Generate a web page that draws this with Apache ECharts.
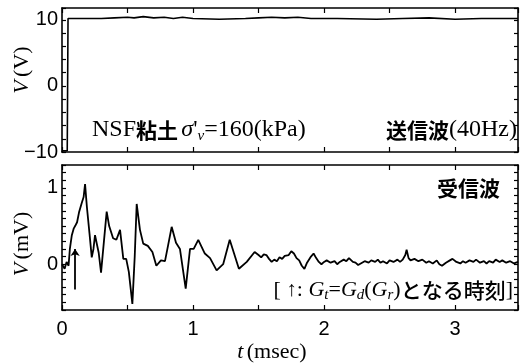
<!DOCTYPE html>
<html>
<head>
<meta charset="utf-8">
<script src="https://cdn.jsdelivr.net/npm/echarts@6/dist/echarts.min.js"></script>
<style>
  html, body { margin: 0; padding: 0; background: #fff; }
  #chart { width: 521px; height: 363px; }
</style>
</head>
<body>
<div id="chart"></div>
<script>
// 送信波 (V)
const sendT = [0, 0.02, 0.04, 0.046, 0.2, 0.3, 0.4, 0.5, 0.55, 0.62, 0.7, 0.78, 0.85, 0.92, 1.0, 1.2, 1.4, 1.5, 1.6,
  1.7, 1.8, 1.9, 2.1, 2.4, 2.6, 2.8, 3.0, 3.2, 3.48];
const sendV = [-9.8, -9.8, -9.8, 10.2, 10.2, 10.2, 10.3, 10.4, 10.3, 10.5, 10.3, 10.4, 10.2, 10.4, 10.2, 10.1, 10.2, 10.3,
  10.4, 10.3, 10.4, 10.2, 10.2, 10.1, 10.2, 10.3, 10.1, 10.2, 10.2];

// 受信波 (mV)
const recvT = [0, 0.02, 0.035, 0.05, 0.06, 0.075, 0.09, 0.1, 0.115, 0.13, 0.15, 0.165, 0.176, 0.19, 0.21,
  0.227, 0.24, 0.252, 0.265, 0.28, 0.298, 0.32, 0.341, 0.36, 0.39, 0.415, 0.443, 0.468, 0.49, 0.51,
  0.537, 0.555, 0.57, 0.595, 0.62, 0.655, 0.69, 0.72, 0.755, 0.786, 0.81, 0.837, 0.87, 0.9, 0.944,
  0.977, 1.005, 1.04, 1.09, 1.13, 1.18, 1.23, 1.28, 1.35, 1.41,
  1.47, 1.5, 1.52, 1.54, 1.56, 1.58, 1.6, 1.62, 1.64, 1.66, 1.68, 1.7, 1.73, 1.75, 1.77, 1.79, 1.81, 1.83,
  1.85, 1.87, 1.9, 1.92, 1.94, 1.96, 1.98, 2.0, 2.02, 2.05, 2.08, 2.1, 2.12, 2.15, 2.17, 2.19, 2.22, 2.24,
  2.26, 2.28, 2.31, 2.34, 2.36, 2.39, 2.41, 2.43, 2.45, 2.48, 2.5, 2.53, 2.56, 2.58, 2.6, 2.62, 2.63, 2.645,
  2.66, 2.69, 2.72, 2.75, 2.78, 2.8, 2.83, 2.86, 2.88, 2.9, 2.93, 2.96, 2.98, 3.01, 3.04, 3.06, 3.08, 3.11,
  3.14, 3.16, 3.19, 3.22, 3.24, 3.26, 3.29, 3.31, 3.34, 3.36, 3.39, 3.42, 3.45, 3.48];
const recvV = [0.0, -0.06, 0.03, -0.02, 0.2, 0.38, 0.47, 0.5, 0.55, 0.68, 0.8, 0.88, 1.05, 0.75, 0.4,
  0.09, 0.2, 0.38, 0.4, 0.15, -0.11, 0.3, 0.69, 0.5, 0.34, 0.32, 0.45, 0.07, 0.07, -0.1,
  -0.52, 0.1, 0.79, 0.45, 0.27, 0.24, 0.16, -0.02, 0.05, 0.04, 0.25, 0.49, 0.28, 0.2, -0.32,
  0.2, 0.2, 0.32, 0.14, 0.08, -0.08, 0.0, 0.32, -0.06, 0.03,
  0.16, 0.12, 0.09, 0.13, 0.12, 0.07, 0.03, 0.06, 0.04, 0.09, 0.07, 0.11, 0.12, 0.17, 0.14, 0.08, 0.05, -0.02,
  -0.06, 0.02, 0.1, 0.14, 0.08, 0.03, 0.0, 0.03, 0.05, 0.02, 0.04, 0.0, 0.03, 0.06, 0.04, 0.08, 0.03, 0.02,
  -0.01, 0.01, 0.04, 0.02, 0.05, 0.03, 0.06, 0.02, 0.04, 0.01, 0.05, 0.03, 0.06, 0.03, 0.06, 0.12, 0.19, 0.08,
  0.05, 0.07, 0.04, 0.06, 0.02, 0.04, 0.01, 0.05, 0.0, -0.02, 0.02, 0.05, 0.07, 0.03, 0.01, 0.04, 0.02, 0.05,
  0.03, 0.06, 0.02, 0.04, 0.01, 0.04, 0.02, 0.06, 0.03, 0.05, 0.02, 0.04, 0.01, 0.03];

// 矢印 (Gt=Gd となる時刻)
const arrowT = 0.1;
const arrowV = [-0.33, 0.2];

const tMax = 3.48;
const serif = '"Liberation Serif", "Times New Roman", serif';
const sans = '"Liberation Sans", Arial, sans-serif';
const cjk = '"Noto Sans CJK JP", sans-serif';

const lineBlack = { show: true, onZero: false, lineStyle: { color: '#000', width: 1.6 } };

function xAx(grid, pos, labels) {
  return {
    type: 'value', gridIndex: grid, position: pos, min: 0, max: tMax, interval: 0.5,
    axisLine: lineBlack,
    axisTick: { show: true, inside: true, length: 5, lineStyle: { color: '#000', width: 1.2 } },
    axisLabel: {
      show: labels, margin: 9, color: '#000', fontFamily: sans, fontSize: 20,
      formatter: v => (Math.abs(v - Math.round(v)) < 1e-6 && v <= 3 ? String(Math.round(v)) : '')
    },
    splitLine: { show: false }
  };
}

function yAx(grid, pos, min, max, interval, fmt) {
  return {
    type: 'value', gridIndex: grid, position: pos, min: min, max: max, interval: interval,
    axisLine: lineBlack,
    axisTick: { show: true, inside: true, length: 4, lineStyle: { color: '#000', width: 1.2 } },
    axisLabel: { show: !!fmt, margin: 4, color: '#000', fontFamily: sans, fontSize: 20, formatter: fmt },
    splitLine: { show: false }
  };
}

const topFmt = v => (v === 10 ? '10' : v === 0 ? '0' : v === -10 ? '\u221210' : '');
const botFmt = v => (Math.abs(v) < 1e-6 ? '0' : Math.abs(v - 1) < 1e-6 ? '1' : '');

const rich = {
  r: { fontFamily: serif, fontSize: 24, lineHeight: 28, color: '#000' },
  i: { fontFamily: serif, fontSize: 24, lineHeight: 28, fontStyle: 'italic', color: '#000' },
  n: { fontFamily: serif, fontSize: 22, lineHeight: 26, color: '#000' },
  ni: { fontFamily: serif, fontSize: 22, lineHeight: 26, fontStyle: 'italic', color: '#000' },
  sub: { fontFamily: serif, fontSize: 15, lineHeight: 15, fontStyle: 'italic', verticalAlign: 'bottom', color: '#000' },
  j: { fontFamily: cjk, fontSize: 21, lineHeight: 28, fontWeight: 'bold', color: '#000' },
  jm: { fontFamily: cjk, fontSize: 21, lineHeight: 26, fontWeight: 500, color: '#000' },
  ar: { fontFamily: sans, fontSize: 21, lineHeight: 26, fontWeight: 'bold', color: '#000' }
};

function label(x, y, text, align, rotation) {
  return {
    type: 'text', x: x, y: y, rotation: rotation || 0,
    style: { text: text, rich: rich, align: align, verticalAlign: 'middle' }
  };
}

const chart = echarts.init(document.getElementById('chart'));

chart.setOption({
  backgroundColor: '#fff',
  animation: false,
  grid: [
    { left: 62, right: 3, top: 8, height: 144 },
    { left: 62, right: 3, top: 165, height: 145 }
  ],
  xAxis: [xAx(0, 'bottom', false), xAx(0, 'top', false), xAx(1, 'bottom', true), xAx(1, 'top', false)],
  yAxis: [
    yAx(0, 'left', -10, 11.8, 2, topFmt), yAx(0, 'right', -10, 11.8, 2, null),
    yAx(1, 'left', -0.6, 1.3, 0.1, botFmt), yAx(1, 'right', -0.6, 1.3, 0.1, null)
  ],
  series: [
    {
      type: 'line', xAxisIndex: 0, yAxisIndex: 0, showSymbol: false,
      data: sendT.map((t, i) => [t, sendV[i]]),
      lineStyle: { color: '#000', width: 1.6 }
    },
    {
      type: 'line', xAxisIndex: 2, yAxisIndex: 2, showSymbol: false,
      data: recvT.map((t, i) => [t, recvV[i]]),
      lineStyle: { color: '#000', width: 1.8 },
      markLine: {
        silent: true, symbol: ['none', 'arrow'], symbolSize: 7,
        label: { show: false },
        lineStyle: { color: '#000', width: 1.8, type: 'solid' },
        data: [[{ coord: [arrowT, arrowV[0]] }, { coord: [arrowT, arrowV[1]] }]]
      }
    }
  ],
  graphic: [
    label(22, 70, '{ni|V} {n|(V)}', 'center', Math.PI / 2),
    label(22, 244, '{ni|V} {n|(mV)}', 'center', Math.PI / 2),
    label(272, 352, '{ni|t} {n|(msec)}', 'center'),
    label(92, 130, '{r|NSF}{j|粘土} {i|σ}{r|\'}{sub|ν}{r|=160(kPa)}', 'left'),
    label(517, 130, '{j|送信波}{r|(40Hz)}', 'right'),
    label(500, 188, '{j|受信波}', 'right'),
    label(513, 290, '{n|[ }{ar|↑}{n|: }{ni|G}{sub|t}{n|=}{ni|G}{sub|d}{n|(}{ni|G}{sub|r}{n|)}{jm|となる時刻}{n|]}', 'right')
  ]
});
</script>
</body>
</html>
